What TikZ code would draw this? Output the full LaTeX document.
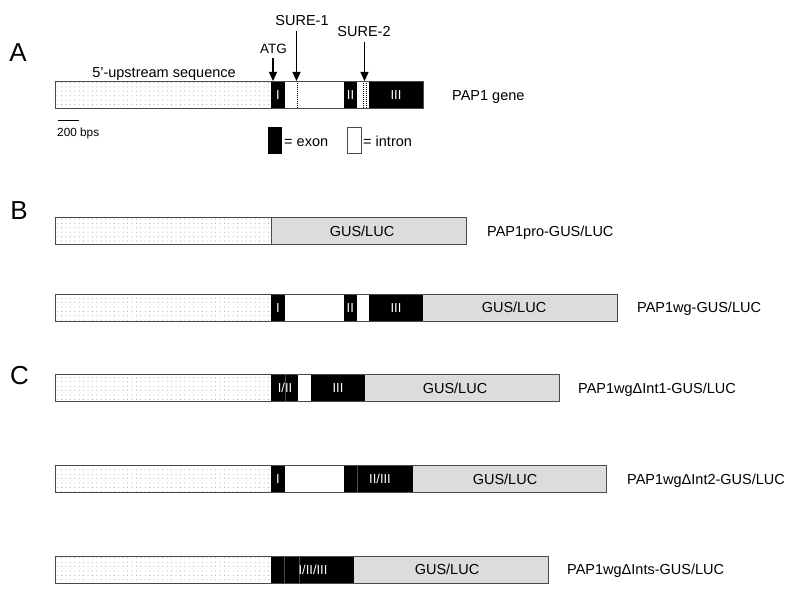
\documentclass[tikz,border=0pt]{standalone}
\usepackage{fontspec}
\setmainfont{Liberation Sans}
\usetikzlibrary{arrows.meta,patterns.meta}
\definecolor{edgec}{HTML}{4A4A4A}
\definecolor{gusc}{HTML}{DCDCDC}
\definecolor{dotc}{HTML}{9A9A9A}
\begin{document}
\begin{tikzpicture}[x=1pt,y=-1pt,
  up/.style={pattern={Dots[distance=4.4pt,radius=0.5pt]},pattern color=dotc},
  gusbox/.style={fill=gusc},
  exon/.style={fill=black},
  outline/.style={draw=edgec,line width=1pt},
  sep/.style={draw=edgec,line width=0.8pt},
  inner/.style={draw=black!70,line width=0.5pt},
  sure/.style={draw=black,line width=0.6pt,dash pattern=on 1pt off 1pt},
  lbl/.style={font=\fontsize{14.5}{16}\selectfont,inner sep=0pt,text height=10.4pt,text depth=0pt},
  small/.style={font=\fontsize{13.5}{15}\selectfont,inner sep=0pt,text height=9.7pt,text depth=0pt},
  tiny/.style={font=\fontsize{11.8}{13}\selectfont,inner sep=0pt,text height=8.5pt,text depth=0pt},
  num/.style={font=\fontsize{13}{14}\selectfont,text=white,inner sep=0pt,text height=9.3pt,text depth=0pt},
  panel/.style={font=\fontsize{26}{28}\selectfont,inner sep=0pt,text height=18.6pt,text depth=0pt},
  pin/.style={-{Triangle[length=9pt,width=8pt]},line width=1.3pt},
]
\useasboundingbox (0,0) rectangle (802,593);

% ---------------- Panel A ----------------
\node[panel] (pA) at (18,52.5) {A};
\fill[up] (55,81.5) rectangle (271,108.5);
\fill[exon] (271,81.5) rectangle (285,108.5);
\fill[exon] (344,81.5) rectangle (357,108.5);
\fill[exon] (369,81.5) rectangle (423,108.5);
\draw[sure] (297,81.5) -- (297,108.5);
\draw[sure] (363.5,81.5) -- (363.5,108.5);
\draw[sure] (366.5,81.5) -- (366.5,108.5);
\draw[outline] (55,81.5) rectangle (423,108.5);
\node[num] (aI) at (278,95) {I};
\node[num] (aII) at (350.5,95) {II};
\node[num] (aIII) at (396,95) {III};
\node[lbl] (ups) at (164,72) {5’-upstream sequence};
\node[lbl,anchor=west] (gene) at (452,95) {PAP1 gene};

\node[small] (atg) at (273.5,48.5) {ATG};
\node[lbl] (s1) at (302,20) {SURE-1};
\node[lbl] (s2) at (364,31.5) {SURE-2};
\coordinate (atgT) at (273,81);
\coordinate (s1T) at (296.5,81);
\coordinate (s2T) at (364.5,81);
\draw[pin] (atg.south -| atgT) ++(0,4) -- (atgT);
\draw[pin] (s1.south -| s1T) ++(0,6) -- (s1T);
\draw[pin] (s2.south -| s2T) ++(0,5) -- (s2T);

\coordinate (sbA) at (58,121);
\coordinate (sbB) at (79,121);
\draw[line width=1pt] (sbA) -- (sbB);
\node[tiny,anchor=west] (sbl) at (57,132) {200 bps};

\fill[black] (268,127) rectangle (281.5,154);
\node[lbl,anchor=west] (lex) at (284,141) {= exon};
\draw[edgec,line width=0.9pt,fill=white] (347.5,127.5) rectangle (361,153.5);
\node[lbl,anchor=west] (lin) at (363,141) {= intron};

% ---------------- Panel B ----------------
\node[panel] (pB) at (19,210) {B};
% B1
\fill[up] (55,218) rectangle (271,245);
\fill[gusbox] (271,218) rectangle (466,245);
\draw[sep] (271,218) -- (271,245);
\draw[outline] (55,218) rectangle (466,245);
\node[lbl] (b1g) at (362,231.5) {GUS/LUC};
\node[lbl,anchor=west] (b1l) at (487,231.5) {PAP1pro-GUS/LUC};
% B2
\fill[up] (55,294) rectangle (271,321);
\fill[exon] (271,294) rectangle (285,321);
\fill[exon] (343.5,294) rectangle (357,321);
\fill[exon] (369,294) rectangle (423,321);
\fill[gusbox] (423,294) rectangle (617,321);
\draw[outline] (55,294) rectangle (617,321);
\node[num] (b2I) at (278,307.5) {I};
\node[num] (b2II) at (350.3,307.5) {II};
\node[num] (b2III) at (396,307.5) {III};
\node[lbl] (b2g) at (514,307.5) {GUS/LUC};
\node[lbl,anchor=west] (b2l) at (637,307.5) {PAP1wg-GUS/LUC};

% ---------------- Panel C ----------------
\node[panel] (pC) at (19.5,375) {C};
% C1
\fill[up] (55,374) rectangle (271,401.5);
\fill[exon] (271,374) rectangle (298,401.5);
\draw[inner] (285,374) -- (285,401.5);
\fill[exon] (311,374) rectangle (365,401.5);
\fill[gusbox] (365,374) rectangle (559,401.5);
\draw[outline] (55,374) rectangle (559,401.5);
\node[num] (c1a) at (285,388) {I/II};
\node[num] (c1b) at (338,388) {III};
\node[lbl] (c1g) at (455,388) {GUS/LUC};
\node[lbl,anchor=west] (c1l) at (578,388) {PAP1wgΔInt1-GUS/LUC};
% C2
\fill[up] (55,465) rectangle (271,492.5);
\fill[exon] (271,465) rectangle (284.5,492.5);
\fill[exon] (344,465) rectangle (413,492.5);
\draw[inner] (357,465) -- (357,492.5);
\fill[gusbox] (413,465) rectangle (606,492.5);
\draw[outline] (55,465) rectangle (606,492.5);
\node[num] (c2a) at (278,479) {I};
\node[num] (c2b) at (380,479) {II/III};
\node[lbl] (c2g) at (505,479) {GUS/LUC};
\node[lbl,anchor=west] (c2l) at (627,479) {PAP1wgΔInt2-GUS/LUC};
% C3
\fill[up] (55,556) rectangle (271,583);
\fill[exon] (271,556) rectangle (354,583);
\draw[inner] (284.5,556) -- (284.5,583);
\draw[inner] (299.5,556) -- (299.5,583);
\fill[gusbox] (354,556) rectangle (548,583);
\draw[outline] (55,556) rectangle (548,583);
\node[num] (c3a) at (313,569.5) {I/II/III};
\node[lbl] (c3g) at (447,569.5) {GUS/LUC};
\node[lbl,anchor=west] (c3l) at (567,569.5) {PAP1wgΔInts-GUS/LUC};
\end{tikzpicture}
\end{document}
